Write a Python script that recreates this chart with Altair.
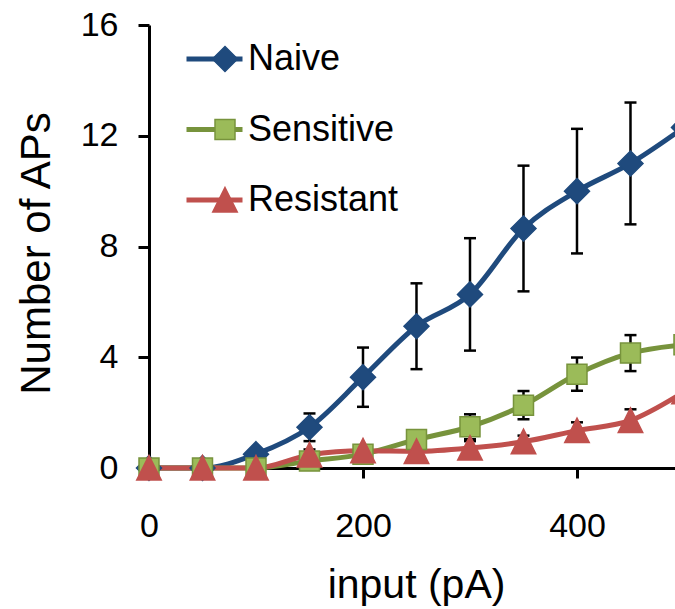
import altair as alt
import pandas as pd

# ---- data ----
x_vals = [0, 50, 100, 150, 200, 250, 300, 350, 400, 450, 500]
series_names = ["Naive", "Sensitive", "Resistant"]

naive = [0, 0, 0.5, 1.47, 3.28, 5.12, 6.27, 8.65, 10.0, 11.0, 12.3]
naive_err = [0, 0, 0, 0.5, 1.07, 1.55, 2.03, 2.27, 2.25, 2.2, 2.2]

sensitive = [0, 0, 0, 0.25, 0.5, 1.03, 1.49, 2.27, 3.39, 4.15, 4.45]
sensitive_err = [0, 0, 0, 0.1, 0.15, 0.2, 0.45, 0.51, 0.6, 0.65, 0.5]

resistant = [0, 0, 0, 0.47, 0.62, 0.6, 0.72, 0.95, 1.35, 1.72, 2.75]
resistant_err = [0, 0, 0, 0.2, 0.2, 0.2, 0.25, 0.22, 0.3, 0.4, 0.4]

x_ticks = [0, 200, 400]
y_ticks = [0, 4, 8, 12, 16]

line_colors = ["#1F4A7D", "#77933C", "#C0504D"]
fill_colors = ["#1F4A7D", "#9BBB59", "#C0504D"]
marker_paths = [
    "M0,-2.5L2.5,0L0,2.5L-2.5,0Z",
    "M-2,-2H2V2H-2Z",
    "M0,-2.5L2.45,2.4L-2.45,2.4Z",
]

rows = []
for name, vals, errs in zip(series_names, [naive, sensitive, resistant],
                            [naive_err, sensitive_err, resistant_err]):
    for xv, v, e in zip(x_vals, vals, errs):
        rows.append({"input": xv, "aps": v, "err": e, "lo": v - e, "hi": v + e, "series": name})
df = pd.DataFrame(rows)
err_df = df[df["err"] > 0]

FONT = "Liberation Sans"

x_axis = alt.Axis(values=x_ticks, title="input (pA)", grid=False,
                  domainColor="black", domainWidth=3, tickColor="black", tickWidth=3, tickSize=10,
                  labelFont=FONT, labelFontSize=34, labelColor="black", labelPadding=31,
                  labelFlush=False, labelOverlap=False,
                  titleFont=FONT, titleFontSize=41, titleFontWeight="normal", titleColor="black",
                  titleX=267, titleY=129, titleBaseline="alphabetic", titleAlign="center")
y_axis = alt.Axis(values=y_ticks, title="Number of APs", grid=False,
                  domainColor="black", domainWidth=3, tickColor="black", tickWidth=3, tickSize=11,
                  labelFont=FONT, labelFontSize=34, labelColor="black", labelPadding=20,
                  labelFlush=False, labelOverlap=False,
                  titleFont=FONT, titleFontSize=42, titleFontWeight="normal", titleColor="black",
                  titleAngle=270, titleX=-100, titleY=228, titleBaseline="alphabetic", titleAlign="center")

x_scale = alt.Scale(domain=[0, 491.6], nice=False, zero=False)
y_scale = alt.Scale(domain=[0, 16], nice=False)

xenc = alt.X("input:Q", scale=x_scale, axis=x_axis)

stroke_scale = alt.Scale(domain=series_names, range=line_colors)
fill_scale = alt.Scale(domain=series_names, range=fill_colors)
shape_scale = alt.Scale(domain=series_names, range=marker_paths)

line_legend = alt.Legend(orient="none", legendX=35, legendY=16, title=None, padding=0,
                         symbolType="stroke", symbolSize=3136, symbolStrokeWidth=5,
                         clipHeight=36, rowPadding=34.5, labelOffset=3,
                         labelFont=FONT, labelFontSize=36, labelColor="black", labelLimit=0)
marker_legend = alt.Legend(orient="none", legendX=58, legendY=16, title=None, padding=0,
                           symbolSize=100, symbolStrokeWidth=1.5, symbolOpacity=1,
                           clipHeight=36, rowPadding=34.5, labelOffset=3, labelExpr="''",
                           labelFont=FONT, labelFontSize=36, labelColor="black", labelLimit=0)

bars = alt.Chart(err_df).mark_rule(color="black", strokeWidth=2.5).encode(
    x=xenc,
    y=alt.Y("lo:Q", scale=y_scale, axis=y_axis),
    y2="hi:Q",
)
caps_lo = alt.Chart(err_df).mark_tick(color="black", orient="horizontal", size=12,
                                      thickness=2.5, opacity=1).encode(
    x=xenc, y=alt.Y("lo:Q", scale=y_scale, axis=y_axis))
caps_hi = alt.Chart(err_df).mark_tick(color="black", orient="horizontal", size=12,
                                      thickness=2.5, opacity=1).encode(
    x=xenc, y=alt.Y("hi:Q", scale=y_scale, axis=y_axis))

lines = alt.Chart(df).mark_line(strokeWidth=5, interpolate="monotone").encode(
    x=xenc,
    y=alt.Y("aps:Q", scale=y_scale, axis=y_axis),
    stroke=alt.Stroke("series:N", scale=stroke_scale, legend=line_legend),
)

points = alt.Chart(df).mark_point(filled=True, size=100, strokeWidth=1.5, opacity=1).encode(
    x=xenc,
    y=alt.Y("aps:Q", scale=y_scale, axis=y_axis),
    fill=alt.Fill("series:N", scale=fill_scale, legend=marker_legend),
    shape=alt.Shape("series:N", scale=shape_scale, legend=marker_legend),
    stroke=alt.Stroke("series:N", scale=stroke_scale, legend=None),
)

chart = alt.layer(bars, caps_lo, caps_hi, lines, points).resolve_legend(
    stroke="independent", fill="independent", shape="independent"
).properties(
    width=526, height=443,
    padding={"left": 149, "top": 25, "right": 0, "bottom": 141},
    autosize=alt.AutoSizeParams(type="none"),
    background="white",
).configure_view(stroke=None)

chart.save("out.html", embed_options={"renderer": "svg", "actions": False})
